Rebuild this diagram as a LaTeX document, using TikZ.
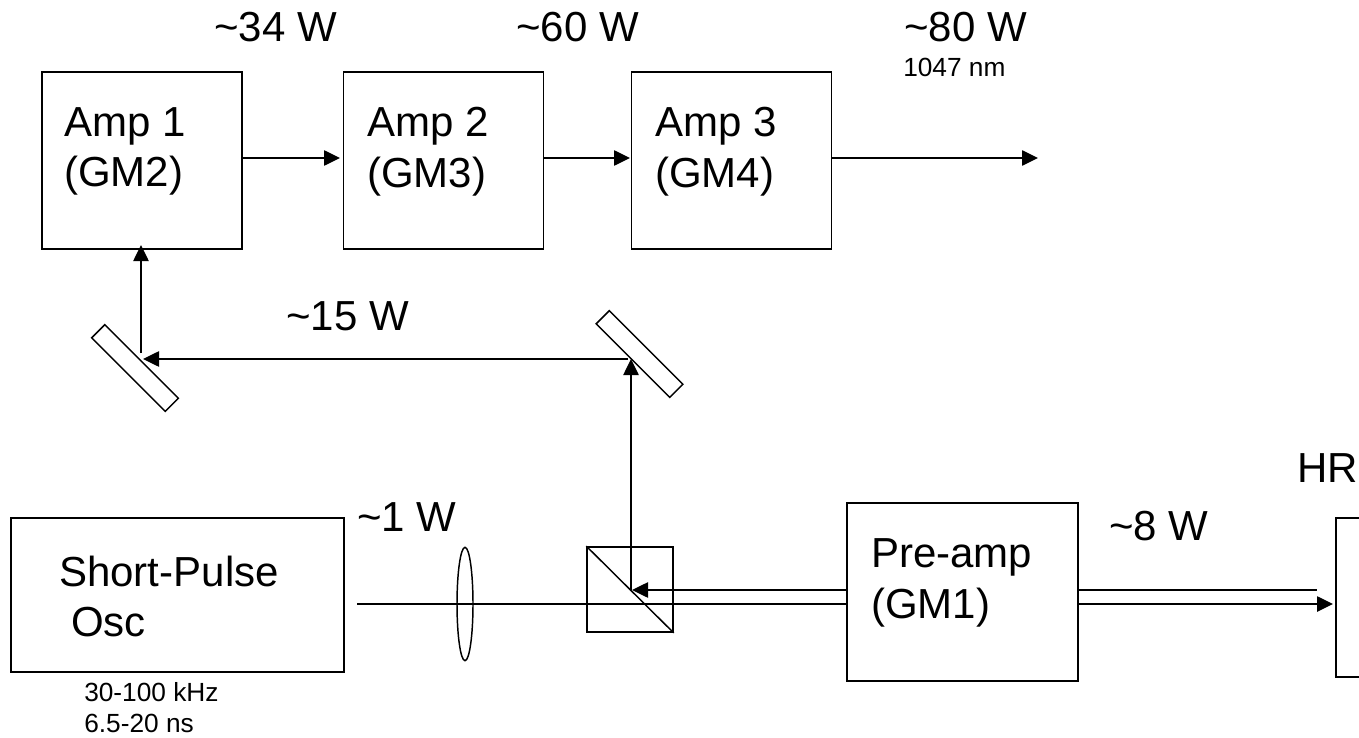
\documentclass[tikz,border=0pt]{standalone}
\usepackage{fontspec}
\setmainfont{Liberation Sans}
\usepackage{tikz}
\usetikzlibrary{arrows.meta}
\usetikzlibrary{shapes.geometric}

\tikzset{
  >={Triangle[length=12pt,width=11.5pt]},
  beam/.style={line width=1.1pt},
  bigtext/.style={font=\fontsize{31.5}{38}\selectfont,inner sep=0pt},
  power/.style={bigtext,anchor=base west},
  smalltext/.style={font=\fontsize{19.7}{23.3}\selectfont,inner sep=0pt},
  boxtext/.style={bigtext,align=left,anchor=west},
  box/.style={draw,line width=1.1pt,inner sep=0pt},
  ampbox/.style={box,minimum width=150pt,minimum height=133pt},
  mirror/.style={draw,line width=1.1pt,fill=white,rotate=-45,minimum width=78pt,minimum height=14pt,inner sep=0pt},
}

\begin{document}
\begin{tikzpicture}[x=.75pt,y=-.75pt]
\useasboundingbox (0,0) rectangle (1359,738);

\node (amp1) [ampbox] at (142,160.5) {};
\node (amp2) [ampbox] at (443.5,160.5) {};
\node (amp3) [ampbox] at (731.5,160.5) {};
\node (osc) [box,minimum width=250pt,minimum height=115.5pt] at (177.5,595) {};
\node (preamp) [box,minimum width=173pt,minimum height=133.5pt] at (962.5,592) {};
\node (hrbox) [box,minimum width=48pt,minimum height=119pt] at (1368,597.5) {};

\node (amp1text) [boxtext] at (64,151.5) {Amp 1\\(GM2)};
\node (amp2text) [boxtext] at (367,151.5) {Amp 2\\(GM3)};
\node (amp3text) [boxtext] at (655,151.5) {Amp 3\\(GM4)};
\node (osctext) [boxtext] at (59,596.5) {Short-Pulse\\ \hspace{9pt}Osc};
\node (pretext) [boxtext] at (871,583) {Pre-amp\\(GM1)};

\node (mirrorl) [mirror] at (135,368) {};
\node (mirrorr) [mirror] at (639.5,354) {};
\node (cube) [box,minimum width=64.5pt,minimum height=64pt] at (630,589.5) {};
\node (lens) [box,ellipse,minimum width=12pt,minimum height=85pt] at (465,604) {};

\coordinate (oscout) at (357,604);
\coordinate (cubehit) at (632,590);
\coordinate (cubeup) at (631,590);
\coordinate (mirrorrhit) at (631,359);
\coordinate (mirrorrout) at (628,359);
\coordinate (mirrorlhit) at (143,359);
\coordinate (mirrorlup) at (141,353);
\coordinate (ampin) at (141,245);
\coordinate (amp2in) at (340,158);
\coordinate (amp3in) at (630,158);
\coordinate (out) at (1038,158);
\coordinate (preback) at (847,590);
\coordinate (prefront) at (847,604);
\coordinate (pretop) at (1078,590);
\coordinate (prelow) at (1078,604);
\coordinate (hrtop) at (1317,590);
\coordinate (hrin) at (1333,604);

% beams
\draw [beam] (oscout) -- (prefront);
\draw [beam] [->] (preback) -- (cubehit);
\draw [beam] [->] (cubeup) -- (mirrorrhit);
\draw [beam] [->] (mirrorrout) -- (mirrorlhit);
\draw [beam] [->] (mirrorlup) -- (ampin);
\draw [beam] (pretop) -- (hrtop);
\draw [beam] [->] (prelow) -- (hrin);
\draw [beam] [->] (amp1.east |- out) -- (amp2in);
\draw [beam] [->] (amp2.east |- out) -- (amp3in);
\draw [beam] [->] (amp3.east |- out) -- (out);
\draw [beam] (cube.north west) -- (cube.south east);

% labels
\node (p34) [power] at (214,42) {\textasciitilde34 W};
\node (p60) [power] at (516,42) {\textasciitilde60 W};
\node (p80) [power] at (904,42) {\textasciitilde80 W};
\node (wave) [smalltext,anchor=base west] at (903,77) {1047 nm};
\node (p15) [power] at (286,330) {\textasciitilde15 W};
\node (p1) [power] at (357,531) {\textasciitilde1 W};
\node (p8) [power] at (1109,540) {\textasciitilde8 W};
\node (hr) [power] at (1297,482) {HR};
\node (pulse) [smalltext,align=left,anchor=west] at (84,708) {30-100 kHz\\6.5-20 ns};
\end{tikzpicture}
\end{document}
